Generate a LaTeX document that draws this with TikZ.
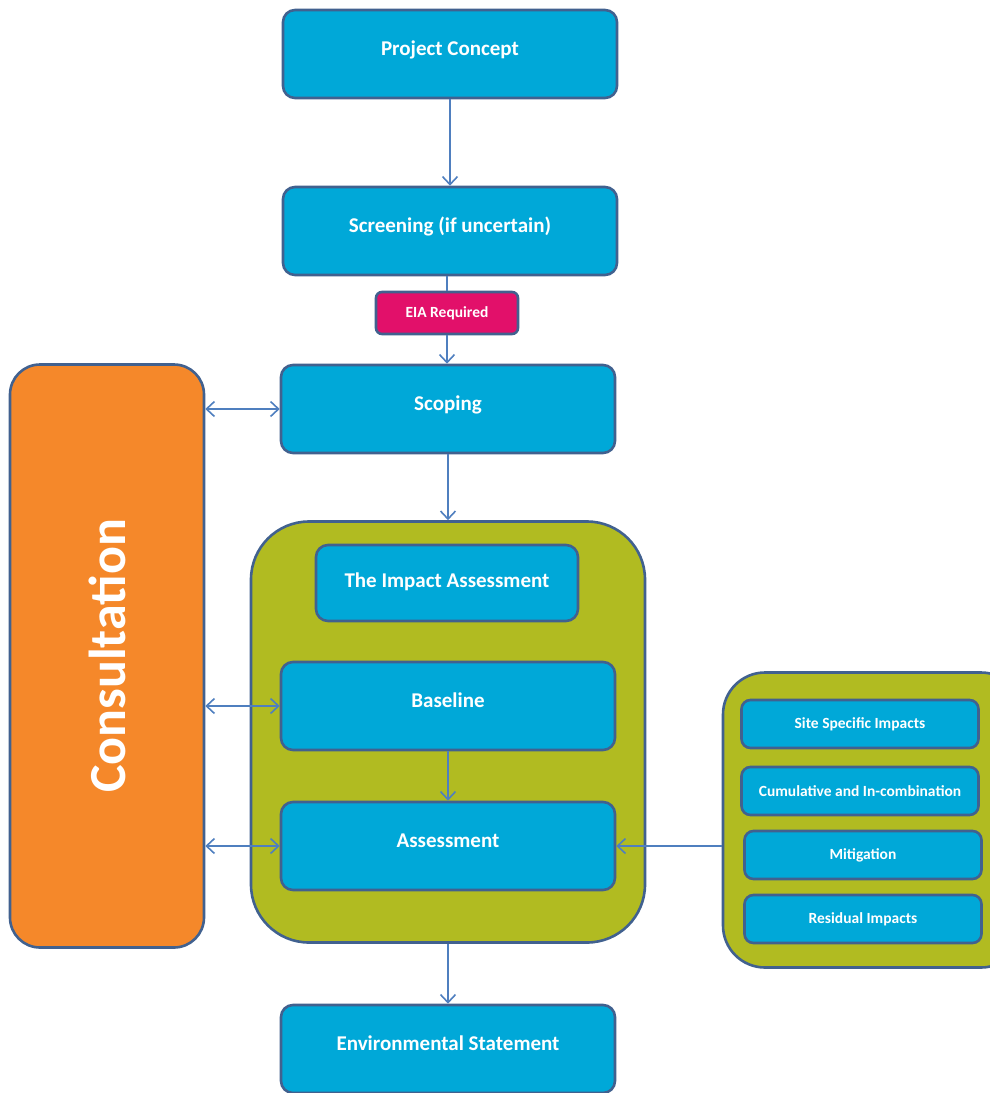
\documentclass[tikz,border=0pt]{standalone}
\usepackage{fontspec}
\setmainfont{Carlito}
\usetikzlibrary{arrows.meta}
\definecolor{boxblue}{HTML}{00A8D8}
\definecolor{edgeblue}{HTML}{41618F}
\definecolor{linkblue}{HTML}{4F7FBF}
\definecolor{panelgreen}{HTML}{B1BB21}
\definecolor{consorange}{HTML}{F5882A}
\definecolor{eiapink}{HTML}{E2106A}
\begin{document}
\begin{tikzpicture}[x=1pt,y=-1pt,
  stage/.style={draw=edgeblue,line width=2.6pt,fill=boxblue,rounded corners=12pt,
    text=white,font=\bfseries\fontsize{21}{25}\selectfont,
    minimum width=334pt,minimum height=88pt,text height=14pt,text depth=12pt},
  substage/.style={draw=edgeblue,line width=2.6pt,fill=boxblue,rounded corners=9pt,
    text=white,font=\bfseries\fontsize{15.5}{18}\selectfont,
    minimum width=237pt,minimum height=48pt},
  panel/.style={draw=edgeblue,line width=2.6pt,fill=panelgreen},
  link/.style={linkblue,line width=1.6pt,-{Straight Barb[length=8pt,width=15pt]}},
  twolink/.style={linkblue,line width=1.6pt,{Straight Barb[length=8pt,width=15pt]}-{Straight Barb[length=8pt,width=15pt]}}]
\useasboundingbox (0,0) rectangle (990,1093);
\clip (0,0) rectangle (990,1093);

% main column
\node[stage] (concept) at (450,54) {Project Concept};
\node[stage] (screen) at (450,231) {Screening (if uncertain)};
\node[draw=edgeblue,line width=2.6pt,fill=eiapink,rounded corners=6pt,text=white,
  font=\bfseries\fontsize{15.5}{18}\selectfont,minimum width=142pt,minimum height=42pt]
  (eia) at (447,313) {EIA Required};
\node[stage] (scope) at (448,409) {Scoping};

% consultation
\node[draw=edgeblue,line width=2.6pt,fill=consorange,rounded corners=30pt,
  minimum width=194pt,minimum height=583pt] (consult) at (107,656) {};
\node[rotate=90,text=white,font=\bfseries\fontsize{52}{60}\selectfont] (constext)
  at (consult.center) {Consultation};

% impact assessment group
\node[panel,rounded corners=58pt,minimum width=394pt,minimum height=421pt] (group) at (448,732) {};
\node[stage,minimum width=262pt,minimum height=76pt,text height=14pt,text depth=5pt]
  (impact) at (447,583) {The Impact Assessment};
\node[stage] (base) at (448,706) {Baseline};
\node[stage] (assess) at (448,846) {Assessment};

% right panel
\node[panel,rounded corners=42pt,minimum width=300pt,minimum height=295pt] (rpanel) at (873,820) {};
\node[substage] (site) at (860,724) {Site Specific Impacts};
\node[substage] (cumul) at (860,791) {Cumulative and In-combination};
\node[substage] (mitig) at (863,855) {Mitigation};
\node[substage] (resid) at (863,919) {Residual Impacts};

\node[stage] (envst) at (448,1049) {Environmental Statement};

% connectors
\draw[link] (concept) -- (screen);
\draw[linkblue,line width=1.6pt] (screen.south -| eia.north) -- (eia);
\draw[link] (eia) -- (eia |- scope.north);
\draw[link] (scope) -- (group);
\draw[link] (base) -- (assess);
\draw[link] (group) -- (envst);
\draw[link] (assess.east -| rpanel.west) -- (assess.east);
\draw[twolink] (scope.west -| consult.east) -- (scope.west);
\draw[twolink] (base.west -| consult.east) -- (base.west);
\draw[twolink] (assess.west -| consult.east) -- (assess.west);
\end{tikzpicture}
\end{document}
